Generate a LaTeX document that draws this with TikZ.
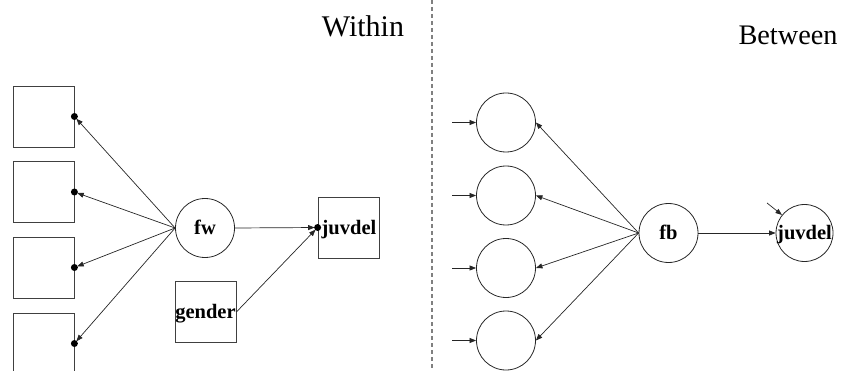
\documentclass[tikz,border=0pt]{standalone}
\usepackage{fontspec}
\setmainfont{Liberation Serif}
\usetikzlibrary{arrows.meta}
\begin{document}
\begin{tikzpicture}[x=1pt,y=-1pt,
  lbl/.style={font=\fontsize{20.5}{21}\selectfont\bfseries,text height=13.5pt,text depth=0pt},
  obsbox/.style={lbl,draw=black!75,line width=0.8pt,minimum size=61pt,inner sep=0pt},
  latent/.style={lbl,draw=black!85,line width=0.8pt,circle,minimum size=59pt,inner sep=0pt},
  path/.style={draw=black!85,line width=0.7pt,-{Triangle[length=6.5pt,width=5pt]}},
  dotpath/.style={path,shorten >=3pt},
  randdot/.style={circle,fill=black,inner sep=0pt,minimum size=7pt},
  title/.style={anchor=base,inner sep=0pt}]
\useasboundingbox (0,0) rectangle (842,371);
% titles and divider
\node[title,font=\fontsize{30}{30}\selectfont] (tw) at (363,37) {Within};
\node[title,font=\fontsize{28.3}{28}\selectfont] (tb) at (788,45) {Between};
\coordinate (dtop) at (432,0);
\coordinate (dbot) at (432,371);
\draw[gray,line width=1.3pt,dash pattern=on 4pt off 3pt] (dtop) -- (dbot);
% Within part
\node[obsbox] (y1) at (43.5,116.5) {};
\node[obsbox] (y2) at (43.5,192) {};
\node[obsbox] (y3) at (43.5,267.5) {};
\node[obsbox] (y4) at (43.5,343.5) {};
\node[latent] (fw) at (205,228) {fw};
\node[obsbox] (jw) at (348.5,227.5) {\hspace*{1pt}juvdel};
\node[obsbox] (gd) at (205.5,312) {gender};
\foreach \i in {1,...,4}{
  \node[randdot] (d\i) at (y\i.east) {};
  \draw[dotpath] (fw.west) -- (d\i.center);
}
\node[randdot] (dj) at (jw.west) {};
\draw[dotpath] (fw.east) -- (dj.center);
\draw[dotpath] (gd.east) -- (dj.center);
% Between part
\node[latent] (c1) at (506,122.5) {};
\node[latent] (c2) at (506,195.5) {};
\node[latent] (c3) at (506,268) {};
\node[latent] (c4) at (506,340.5) {};
\node[latent] (fb) at (668.5,233) {fb};
\node[latent,minimum size=57pt] (jb) at (804.5,233) {juvdel};
\foreach \i/\yy in {1/122.5,2/195.5,3/268,4/340.5}{
  \coordinate (e\i) at (452,\yy);
  \draw[path] (e\i) -- (c\i.west);
  \draw[path] (fb.west) -- (c\i.east);
}
\draw[path] (fb.east) -- (jb.west);
\coordinate (ej) at (767,203);
\draw[path] (ej) -- (jb);
\end{tikzpicture}
\end{document}
